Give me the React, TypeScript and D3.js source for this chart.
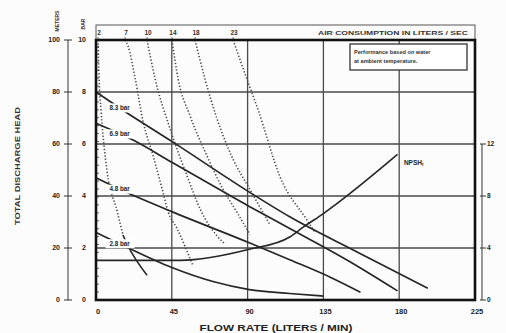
import * as d3 from "d3";

// flow (L/min) vs total discharge head (m)
const curve83 = [[0, 80], [16, 73], [45, 61], [91, 41.5], [115, 32], [155, 18.5], [197, 4.5]];
const curve69 = [[0, 68], [22, 61.5], [45, 53], [91, 36], [115, 27.5], [150, 15], [179, 3.5]];
const curve48 = [[0, 47], [16, 42], [45, 34], [91, 22], [115, 15.5], [140, 8.5], [157, 3]];
const curve28 = [[0, 26], [16, 21], [45, 12.5], [70, 7], [91, 4], [115, 2.5], [135, 1.5]];
const pressureCurves = [curve83, curve69, curve48, curve28];
const pressureLabels = ["8.3 bar", "6.9 bar", "4.8 bar", "2.8 bar"];

// NPSHr, metres on the right scale
const npshr = [[0, 3.05], [50, 3.05], [91, 3.9], [115, 4.85], [123, 5.6], [135, 6.65], [179, 11.2]];

// air consumption lines (L/sec), dotted
const air2 = [[1.2, 100], [1.8, 85.6], [3, 72.8], [6.5, 49.8], [12.5, 34.3], [16, 25]];
const air2Tail = [[16, 25], [19, 20.8], [30.3, 9.5]];
const air7 = [[17.2, 100], [19, 97.7], [23.2, 85.4], [27.9, 68.8], [33.8, 55.7], [39.2, 42.9], [42.8, 34], [48.1, 27.5], [57.6, 13.2]];
const air10 = [[30.3, 100], [35, 85.3], [43.9, 66], [54, 47.8], [61.8, 35], [71.9, 24.6], [76.6, 21.5]];
const air14 = [[45.1, 100], [48.7, 85.2], [55.8, 70.9], [65.9, 55.4], [75.4, 42.6], [83.7, 33.7], [91.4, 25.2]];
const air18 = [[58.8, 100], [64.7, 85], [71.9, 69.6], [81.4, 54.1], [91.4, 42.5], [103.3, 28.9]];
const air23 = [[81.4, 100], [89.7, 84.8], [96.2, 73.2], [109.3, 47.3], [125.3, 30.7], [130, 26]];
const airCurves = [air2, air7, air10, air14, air18, air23];
const airLabels = ["2", "7", "10", "14", "18", "23"];

const headTicks = [0, 20, 40, 60, 80, 100];
const barTicks = [0, 2, 4, 6, 8, 10];
const flowTicks = [0, 45, 90, 135, 180, 225];
const npshTicks = [0, 4, 8, 12];

const FONT = "'Liberation Sans', Arial, sans-serif";

export default function App() {
  const W = 506, H = 333;
  const left = 96, right = 475, top = 40, bottom = 300;

  const x = d3.scaleLinear().domain([0, 225]).range([left, right]);
  const y = d3.scaleLinear().domain([0, 100]).range([bottom, top]);
  const yN = d3.scaleLinear().domain([0, 12]).range([bottom, y(60)]);

  const line = d3.line<number[]>().x(d => x(d[0])).y(d => y(d[1])).curve(d3.curveMonotoneX);
  const lineN = d3.line<number[]>().x(d => x(d[0])).y(d => yN(d[1])).curve(d3.curveMonotoneX);

  // feet ticks along the inside of the left frame
  const ftTicks = d3.range(0, 329, 10).map(f => f * 0.3048);

  const ink = "#262626";
  const grid = "#4a4a4a";

  return (
    <svg width={W} height={H} style={{ position: "absolute", left: 0, top: 0, background: "#fff" }} fontFamily={FONT}>
      <rect width={W} height={H} fill="#fdfcfc" />

      {/* grid */}
      {headTicks.slice(1, -1).map(t => (
        <line key={"h" + t} x1={left} x2={right} y1={y(t)} y2={y(t)} stroke={grid} strokeWidth={1.3} />
      ))}
      {flowTicks.slice(1, -1).map(t => (
        <line key={"v" + t} x1={x(t)} x2={x(t)} y1={top} y2={bottom} stroke={grid} strokeWidth={1.3} />
      ))}

      {/* air consumption band */}
      <rect x={left} y={25} width={right - left} height={15} fill="none" stroke="#555" strokeWidth={1} />
      {airCurves.map((c, i) => (
        <g key={"al" + i}>
          <line x1={x(c[0][0])} x2={x(c[0][0])} y1={37} y2={40} stroke="#555" strokeWidth={0.8} />
          <text x={x(c[0][0]) + 1} y={35} fontSize={6.5} fontWeight="bold" textAnchor="middle" fill="#333">{airLabels[i]}</text>
        </g>
      ))}
      <text x={318} y={35} fontSize={6} fontWeight="bold" fill="#333" textLength={150} lengthAdjust="spacingAndGlyphs">AIR CONSUMPTION IN LITERS / SEC</text>

      {/* dotted air lines */}
      {airCurves.map((c, i) => (
        <path key={"air" + i} d={line(c) || ""} fill="none" stroke="#484848" strokeWidth={1.6} strokeDasharray="1.3 2" />
      ))}
      <path d={line(air2Tail) || ""} fill="none" stroke={ink} strokeWidth={1.5} />

      {/* pressure curves */}
      {pressureCurves.map((c, i) => (
        <path key={"p" + i} d={line(c) || ""} fill="none" stroke={ink} strokeWidth={1.7} />
      ))}
      {pressureCurves.map((c, i) => {
        const f = d3.scaleLinear().domain(c.map(d => d[0])).range(c.map(d => d[1]));
        const cx = x(14), cy = y(f(14));
        return (
          <g key={"pl" + i}>
            <rect x={cx - 14} y={cy - 4.5} width={29} height={9} fill="#fff" />
            <text x={cx} y={cy + 2.2} fontSize={6.3} fontWeight="bold" textAnchor="middle" fill="#222">{pressureLabels[i]}</text>
          </g>
        );
      })}

      {/* NPSHr */}
      <path d={lineN(npshr) || ""} fill="none" stroke={ink} strokeWidth={1.6} />
      <text x={x(181) + 3} y={yN(10.4)} fontSize={6.5} fontWeight="bold" fill="#222">
        NPSH<tspan fontSize={4.5} dy={1.5}>r</tspan>
      </text>

      {/* legend note */}
      <rect x={350} y={44} width={117} height={26} fill="#fff" stroke="#333" strokeWidth={1.3} />
      <text x={354} y={54} fontSize={5.6} fontWeight="bold" fill="#333">Performance based on water</text>
      <text x={354} y={63} fontSize={5.6} fontWeight="bold" fill="#333">at ambient temperature.</text>

      {/* frame */}
      {ftTicks.map((t, i) => (
        <line key={"ft" + i} x1={left} x2={left + 3} y1={y(t)} y2={y(t)} stroke="#333" strokeWidth={0.8} />
      ))}
      <rect x={left} y={top} width={right - left} height={bottom - top} fill="none" stroke="#111" strokeWidth={2.6} />

      {/* left head axis (m / bar) */}
      <line x1={68} x2={68} y1={y(100)} y2={y(0)} stroke="#555" strokeWidth={1.2} />
      {headTicks.map((t, i) => (
        <g key={"lt" + t}>
          <line x1={64} x2={72} y1={y(t)} y2={y(t)} stroke="#333" strokeWidth={1} />
          <text x={60} y={y(t) + 2.4} fontSize={7} fontWeight="bold" textAnchor="end" fill="#222">{t}</text>
          <text x={86} y={y(t) + 2.4} fontSize={7} fontWeight="bold" textAnchor="end" fill="#222">{barTicks[i]}</text>
        </g>
      ))}
      <text transform="translate(59,21) rotate(-90)" fontSize={5} fontWeight="bold" textAnchor="middle" fill="#333">METERS</text>
      <text transform="translate(85,24) rotate(-90)" fontSize={5} fontWeight="bold" textAnchor="middle" fill="#333">BAR</text>
      <text transform="translate(20,166) rotate(-90)" fontSize={6.5} fontWeight="bold" textAnchor="middle" fill="#333" textLength={118} lengthAdjust="spacingAndGlyphs">TOTAL DISCHARGE HEAD</text>

      {/* right NPSHr axis */}
      <line x1={482} x2={482} y1={yN(12)} y2={yN(0)} stroke="#555" strokeWidth={1.2} />
      {npshTicks.map(t => (
        <g key={"rt" + t}>
          <line x1={480} x2={486} y1={yN(t)} y2={yN(t)} stroke="#333" strokeWidth={1} />
          <text x={487} y={yN(t) + 2.4} fontSize={6.5} fontWeight="bold" fill="#222">{t}</text>
        </g>
      ))}

      {/* bottom axis */}
      {flowTicks.map(t => (
        <text key={"bt" + t} x={x(t) + 2} y={314} fontSize={7.5} fontWeight="bold" textAnchor="middle" fill="#222">{t}</text>
      ))}
      <text x={276} y={331} fontSize={9} fontWeight="bold" textAnchor="middle" fill="#222" textLength={153} lengthAdjust="spacingAndGlyphs">FLOW RATE (LITERS / MIN)</text>
    </svg>
  );
}
